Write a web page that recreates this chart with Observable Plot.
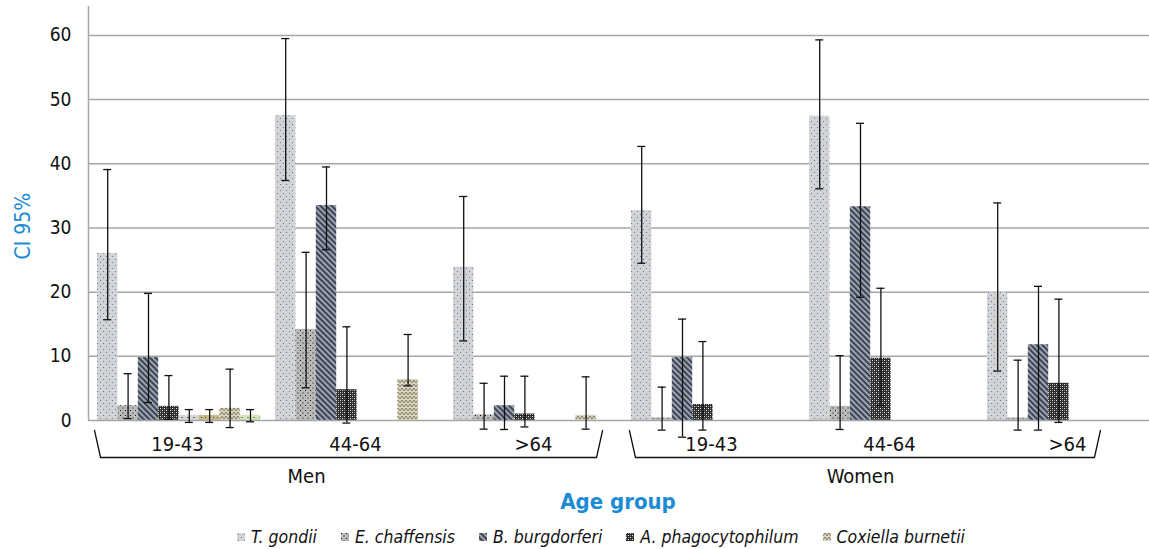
<!DOCTYPE html>
<html><head><meta charset="utf-8">
<script src="https://cdn.jsdelivr.net/npm/d3@7"></script>
<script src="https://cdn.jsdelivr.net/npm/@observablehq/plot@0.6"></script>
<style>
body{margin:0;background:#fff;overflow:hidden;font-family:"Liberation Sans Narrow","DejaVu Sans Condensed","Roboto",sans-serif;}
#wrap{position:relative;width:1149px;height:549px;overflow:hidden}
#title{position:absolute;top:488px;left:0;width:1236px;text-align:center;font-weight:bold;font-size:22px;color:#1b8bd4;line-height:28px;}
#legend{position:absolute;top:526px;left:0;width:1202px;display:flex;justify-content:center;gap:24px;font-style:italic;font-size:17.5px;line-height:22px;color:#111}
.item{display:flex;align-items:center;gap:6px}
</style></head><body>
<svg width="0" height="0" style="position:absolute"><defs>
<pattern id="p0" width="6" height="6" patternUnits="userSpaceOnUse"><rect width="6" height="6" fill="#d3d3d3"/><rect x="1" y="1" width="1" height="1" fill="#4f7fd0"/><rect x="4" y="4" width="1" height="1" fill="#4f7fd0"/></pattern>
<pattern id="p1" width="5" height="5" patternUnits="userSpaceOnUse"><rect width="5" height="5" fill="#bababa"/><rect x="0" y="0" width="1" height="1" fill="#111"/><rect x="2.5" y="2.5" width="1" height="1" fill="#111"/></pattern>
<pattern id="p2" width="4" height="4" patternUnits="userSpaceOnUse" patternTransform="rotate(-45)"><rect width="4" height="4" fill="#a9adb6"/><rect width="2.2" height="4" fill="#3b4559"/></pattern>
<pattern id="p3" width="4" height="4" patternUnits="userSpaceOnUse"><rect width="4" height="4" fill="#2d2d2d"/><rect x="0" y="0" width="1" height="1" fill="#e6e6e6"/><rect x="2" y="2" width="1" height="1" fill="#e6e6e6"/><rect x="2" y="0" width="1" height="1" fill="#7a7a7a"/><rect x="0" y="2" width="1" height="1" fill="#7a7a7a"/></pattern>
<pattern id="p4" width="6" height="4" patternUnits="userSpaceOnUse"><rect width="6" height="4" fill="#d8d8d8"/><rect x="1" y="1" width="2" height="1" fill="#666"/></pattern>
<pattern id="p5" width="4" height="4" patternUnits="userSpaceOnUse"><rect width="4" height="4" fill="#c8ba88"/><rect x="1" y="1" width="1" height="1" fill="#4a4630"/></pattern>
<pattern id="p6" width="8" height="8" patternUnits="userSpaceOnUse"><rect width="8" height="8" fill="#dcd6bf"/><path d="M0,3L2,0L4,3L6,0L8,3M0,7L2,4L4,7L6,4L8,7" fill="none" stroke="#77725c" stroke-width="0.9"/></pattern>
<pattern id="p7" width="6" height="4" patternUnits="userSpaceOnUse"><rect width="6" height="4" fill="#d5e6b8"/><rect x="1" y="1" width="2" height="1" fill="#7f8c66"/></pattern>
</defs></svg>
<div id="wrap"><div id="chart"></div><div id="title">Age group</div><div id="legend"></div></div>
<script>
// ---- data ----
const groups = ["19-43", "44-64", ">64", "19-43", "44-64", ">64"];
const genders = ["Men", "Women"];
const series = ["T. gondii", "E. chaffensis", "B. burgdorferi", "A. phagocytophilum", "Series 5", "Series 6", "Coxiella burnetii", "Series 8"];
const legendSeries = [0, 1, 2, 3, 6];
const yTicks = [0, 10, 20, 30, 40, 50, 60];

const tGondii     = [26.0, 47.5, 23.9, 32.7, 47.4, 20.0];
const tGondiiLow  = [15.7, 37.4, 12.4, 24.5, 36.1, 7.7];
const tGondiiHigh = [39.1, 59.5, 34.9, 42.7, 59.3, 33.9];

const eChaff     = [2.3, 14.2, 0.9, 0.4, 2.2, 0.4];
const eChaffLow  = [0.3, 5.1, -1.35, -1.5, -1.4, -1.5];
const eChaffHigh = [7.3, 26.2, 5.8, 5.2, 10.1, 9.4];

const bBurg     = [9.8, 33.5, 2.3, 9.8, 33.3, 11.8];
const bBurgLow  = [2.8, 26.6, -1.4, -2.6, 19.2, -1.5];
const bBurgHigh = [19.8, 39.5, 6.9, 15.8, 46.3, 20.9];

const aPhago     = [2.2, 4.8, 1.0, 2.5, 9.7, 5.8];
const aPhagoLow  = [0.2, -0.4, -1.0, -1.5, 2.3, -0.3];
const aPhagoHigh = [7.0, 14.6, 6.9, 12.3, 20.6, 18.9];

const s5     = [0.8, null, null, null, null, null];
const s5Low  = [-0.3, null, null, null, null, null];
const s5High = [1.7, null, null, null, null, null];

const s6     = [0.8, null, null, null, null, null];
const s6Low  = [-0.3, null, null, null, null, null];
const s6High = [1.7, null, null, null, null, null];

const coxiella     = [1.9, 6.4, 0.8, null, null, null];
const coxiellaLow  = [-1.1, 5.4, -1.35, null, null, null];
const coxiellaHigh = [8.0, 13.4, 6.8, null, null, null];

const s8     = [0.8, null, null, null, null, null];
const s8Low  = [-0.2, null, null, null, null, null];
const s8High = [1.7, null, null, null, null, null];

const valueSets = [
  [tGondii, tGondiiLow, tGondiiHigh],
  [eChaff, eChaffLow, eChaffHigh],
  [bBurg, bBurgLow, bBurgHigh],
  [aPhago, aPhagoLow, aPhagoHigh],
  [s5, s5Low, s5High],
  [s6, s6Low, s6High],
  [coxiella, coxiellaLow, coxiellaHigh],
  [s8, s8Low, s8High]
];

// ---- layout helpers ----
const FONT = '"Liberation Sans Narrow","DejaVu Sans Condensed","Roboto",sans-serif';
const BLUE = "#1b8bd4";
const groupPx = 178, slotW = 20.4 / groupPx, slotOff = 9 / groupPx, capW = 4 / groupPx;
const pxPerUnit = (420 - 6) / 64.5;

const rows = [];
valueSets.forEach(([v, lo, hi], si) => {
  groups.forEach((g, gi) => {
    if (v[gi] == null) return;
    const x1 = gi + slotOff + si * slotW;
    rows.push({si, gi, v: v[gi], lo: lo[gi], hi: hi[gi], x1, x2: x1 + slotW, xc: x1 + slotW / 2});
  });
});

const groupLabels = groups.map((g, i) => ({text: g, x: i + 0.5, y: 0}));
const genderLabels = [
  {text: genders[0], x: 1.225, y: 0},
  {text: genders[1], x: 4.337, y: 0}
];
const bTop = -10 / pxPerUnit, bBot = -37 / pxPerUnit, sl = 6 / groupPx;
const spans = [{g: genders[0], a: 0.034, b: 2.888}, {g: genders[1], a: 3.039, b: 5.685}];
const bracketPts = spans.flatMap(s => [
  {g: s.g, x: s.a, y: bTop}, {g: s.g, x: s.a + sl, y: bBot},
  {g: s.g, x: s.b - sl, y: bBot}, {g: s.g, x: s.b, y: bTop}
]);
const yTitle = [{text: "CI 95%", y: (420 - 259) / pxPerUnit}];

const barMarks = series.map((s, si) =>
  Plot.rect(rows.filter(d => d.si === si), {x1: "x1", x2: "x2", y1: () => 0, y2: "v", fill: `url(#p${si})`})
);

const chart = Plot.plot({
  width: 1149, height: 490,
  marginTop: 6, marginBottom: 70, marginLeft: 88, marginRight: 0,
  x: {domain: [0, 6], range: [88, 1156], axis: null},
  y: {domain: [0, 64.5], ticks: yTicks, tickSize: 0, tickPadding: 17, label: null},
  style: {fontFamily: FONT, fontSize: "19px", background: "transparent", color: "#111", overflow: "visible"},
  marks: [
    Plot.ruleY(yTicks.slice(1), {stroke: "#a6a6a6", strokeWidth: 1.5}),
    ...barMarks,
    Plot.ruleY([0], {stroke: "#a6a6a6", strokeWidth: 1.5}),
    Plot.ruleX([0], {y1: 0, y2: 64.5, stroke: "#a6a6a6", strokeWidth: 1.5}),
    Plot.ruleX(rows, {x: "xc", y1: "lo", y2: "hi", stroke: "#111", strokeWidth: 1.3}),
    Plot.ruleY(rows, {y: "hi", x1: d => d.xc - capW, x2: d => d.xc + capW, stroke: "#111", strokeWidth: 1.3}),
    Plot.ruleY(rows, {y: "lo", x1: d => d.xc - capW, x2: d => d.xc + capW, stroke: "#111", strokeWidth: 1.3}),
    Plot.text(groupLabels, {x: "x", y: "y", dy: 24, text: "text", fontSize: 20, fill: "#111"}),
    Plot.text(genderLabels, {x: "x", y: "y", dy: 56, text: "text", fontSize: 20, fill: "#111"}),
    Plot.line(bracketPts, {x: "x", y: "y", z: "g", stroke: "#111", strokeWidth: 1.3}),
    Plot.text(yTitle, {frameAnchor: "left", y: "y", dx: -65, rotate: -90, text: "text", fill: BLUE, fontSize: 21})
  ]
});
document.getElementById("chart").appendChild(chart);

// ---- legend ----
const legend = d3.select("#legend");
legendSeries.forEach(si => {
  const item = legend.append("div").attr("class", "item");
  item.append("svg").attr("width", 8).attr("height", 8)
    .append("rect").attr("width", 8).attr("height", 8).attr("fill", `url(#p${si})`);
  item.append("span").text(series[si]);
});
</script></body></html>
